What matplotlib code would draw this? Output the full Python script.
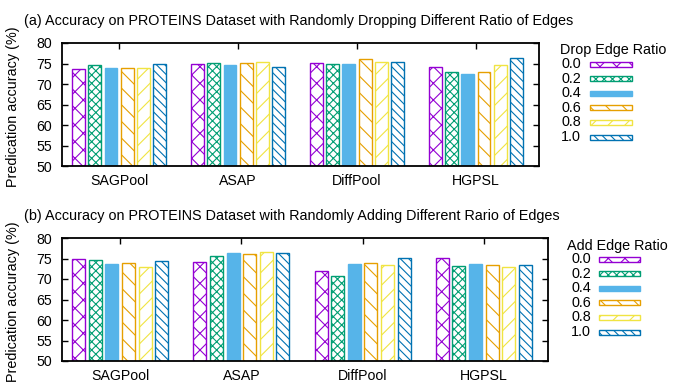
import matplotlib
matplotlib.use("Agg")
import matplotlib.pyplot as plt
from matplotlib.patches import Rectangle
import numpy as np

plt.rcParams['font.family'] = ['Liberation Sans', 'DejaVu Sans']
plt.rcParams['hatch.linewidth'] = 0.8

methods = ["SAGPool", "ASAP", "DiffPool", "HGPSL"]
ratios = ["0.0", "0.2", "0.4", "0.6", "0.8", "1.0"]

# Drop edge accuracies: one list per ratio, values per method
drop_00 = [73.7, 74.9, 75.1, 74.1]
drop_02 = [74.6, 75.1, 74.9, 72.9]
drop_04 = [74.0, 74.6, 74.8, 72.4]
drop_06 = [73.8, 75.1, 76.0, 72.9]
drop_08 = [73.8, 75.4, 75.4, 74.7]
drop_10 = [74.8, 74.1, 75.4, 76.3]

add_00 = [74.8, 74.2, 71.9, 75.1]
add_02 = [74.7, 75.6, 70.7, 73.1]
add_04 = [73.7, 76.4, 73.6, 73.7]
add_06 = [73.9, 76.1, 73.9, 73.5]
add_08 = [72.9, 76.5, 73.4, 73.0]
add_10 = [74.4, 76.4, 75.1, 73.3]

drop_series = [drop_00, drop_02, drop_04, drop_06, drop_08, drop_10]
add_series = [add_00, add_02, add_04, add_06, add_08, add_10]

colors = ["#9400d3", "#009e73", "#56b4e9", "#e69f00", "#f0e442", "#0072b2"]
hatches = ["xx", "xxxx", None, "\\\\", "//", "\\\\\\\\"]

W, H = 677, 390
fig = plt.figure(figsize=(W / 100, H / 100), dpi=100)

FS = 10.2
TFS = 10.4
pitch = 0.137
bw = 0.107
x = np.arange(len(methods))


def fx(px):
    return px / W


def fy(py):
    return 1 - py / H


def draw_panel(rect, series, title, title_y, legend_title, lt_x, lt_y, lab_x, patch_x0, patch_x1, ys):
    ax = fig.add_axes(rect)
    for i, vals in enumerate(series):
        pos = x + (i - 2.5) * pitch
        if hatches[i] is None:
            ax.bar(pos, np.array(vals) - 50, bw, bottom=50, color=colors[i],
                   edgecolor=colors[i], linewidth=1.0)
        else:
            ax.bar(pos, np.array(vals) - 50, bw, bottom=50, facecolor="white",
                   edgecolor=colors[i], hatch=hatches[i], linewidth=1.0)
    ax.set_ylim(50, 80)
    ax.set_xlim(-0.48, 3.53)
    ax.set_yticks(np.arange(50, 81, 5))
    ax.set_xticks(x)
    ax.set_xticklabels(methods, fontsize=FS)
    ax.tick_params(axis='y', labelsize=FS, direction='in', right=True, length=4, width=1, pad=7)
    ax.tick_params(axis='x', direction='in', top=True, bottom=False, length=4, width=1, pad=6)
    for s in ax.spines.values():
        s.set_linewidth(1.3)
    fig.text(fx(24), fy(title_y), title, fontsize=TFS, va='center', ha='left')
    # legend
    fig.text(fx(lt_x), fy(lt_y), legend_title, fontsize=TFS, va='center', ha='left')
    for i, r in enumerate(ratios):
        yc = ys[i]
        fig.text(fx(lab_x), fy(yc), r, fontsize=TFS, va='center', ha='left')
        hgt = 5
        if hatches[i] is None:
            rect_p = Rectangle((fx(patch_x0), fy(yc + hgt / 2)), fx(patch_x1 - patch_x0), hgt / H,
                               transform=fig.transFigure, facecolor=colors[i], edgecolor=colors[i], lw=1.0)
        else:
            rect_p = Rectangle((fx(patch_x0), fy(yc + hgt / 2)), fx(patch_x1 - patch_x0), hgt / H,
                               transform=fig.transFigure, facecolor="white", edgecolor=colors[i],
                               hatch=hatches[i], lw=1.0)
        fig.add_artist(rect_p)
    return ax


ys_top = [64 + 14.6 * i for i in range(6)]
ys_bot = [259 + 14.6 * i for i in range(6)]

ax1 = draw_panel([fx(62), fy(166), fx(539 - 62), (166 - 43) / H], drop_series,
                 "(a) Accuracy on PROTEINS Dataset with Randomly Dropping Different Ratio of Edges", 21,
                 "Drop Edge Ratio", 560, 50, 561, 590, 632, ys_top)
ax2 = draw_panel([fx(62), fy(361), fx(548 - 62), (361 - 238) / H], add_series,
                 "(b) Accuracy on PROTEINS Dataset with Randomly Adding Different Rario of Edges", 216,
                 "Add Edge Ratio", 567, 246, 571, 599, 640, ys_bot)

fig.text(fx(13), fy(107), "Predication accuracy (%)", rotation=90, fontsize=TFS, va='center', ha='center')
fig.text(fx(13), fy(302), "Predication accuracy (%)", rotation=90, fontsize=TFS, va='center', ha='center')

fig.savefig("out.png", dpi=100)
